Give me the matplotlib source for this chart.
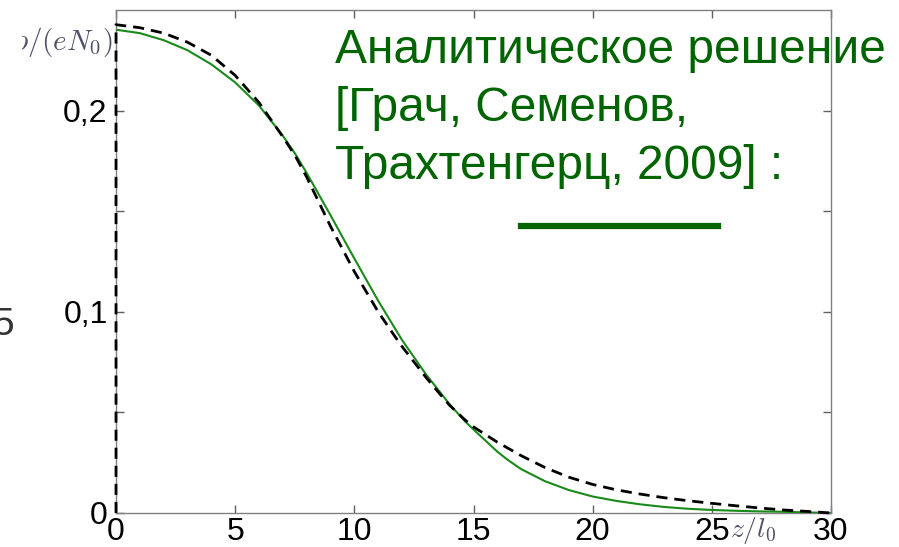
import matplotlib
matplotlib.use("Agg")
import matplotlib.pyplot as plt
from matplotlib.transforms import Bbox

plt.rcParams['mathtext.fontset'] = 'cm'

# Analytical solution (green)
z_green = [0, 1, 2, 3, 4, 5, 6, 7, 7.52, 8, 9, 10, 11, 12, 13, 14, 14.65, 15,
           16, 16.39, 17, 18, 19, 20, 21, 22, 23, 24, 25, 26, 27, 28, 29, 30]
rho_green = [0.2402, 0.2385, 0.2350, 0.2300, 0.2230, 0.2140, 0.2025, 0.1875,
             0.1785, 0.1690, 0.1480, 0.1265, 0.1055, 0.0860, 0.0690, 0.0540, 0.0455,
             0.0415, 0.0305, 0.0268, 0.0218, 0.0158, 0.0114, 0.0082, 0.0060,
             0.0043, 0.0030, 0.0021, 0.0015, 0.0011, 0.0008, 0.0006, 0.0003, 0.0]

# Numerical solution (black dashed)
z_dash = [0, 0, 1, 2, 3, 4, 5, 6, 7, 7.52, 8, 9, 10, 11, 11.92, 13, 13.6, 14,
          14.65, 15, 16, 17, 18, 19, 20, 21, 22, 23, 24, 25, 26, 27, 28, 29, 30]
rho_dash = [0.0, 0.2427, 0.2412, 0.2385, 0.2340, 0.2275, 0.2175, 0.2040, 0.1870,
            0.1775, 0.1670, 0.1425, 0.1200, 0.1000, 0.0840, 0.0675, 0.0590, 0.0535,
            0.0462, 0.0428, 0.0352, 0.0285, 0.0226, 0.0178, 0.0142, 0.0115, 0.0094,
            0.0076, 0.0061, 0.0048, 0.0036, 0.0025, 0.0015, 0.0008, 0.0]

x_ticks = [0, 5, 10, 15, 20, 25, 30]
x_ticklabels = ['0', '5', '10', '15', '20', '25', '30']
y_ticks = [0, 0.05, 0.1, 0.15, 0.2]
y_ticklabels = ['0', '', '0,1', '', '0,2']

legend_lines = ['Аналитическое решение', '[Грач, Семенов,', 'Трахтенгерц, 2009] :']

W, H = 899, 547
fig = plt.figure(figsize=(W / 100, H / 100), dpi=100)
ax = fig.add_axes([116 / W, 1 - 513 / H, 715 / W, 503 / H])

ax.plot(z_green, rho_green, color='#1a8a1a', lw=1.5, zorder=3)
ax.plot(z_dash, rho_dash, color='black', lw=2.0, ls=(0, (4, 2.5)), zorder=4, clip_on=False)

ax.set_xlim(0, 30)
ax.set_ylim(0, 0.25)
ax.set_xticks(x_ticks)
ax.set_xticklabels(x_ticklabels)
ax.set_yticks(y_ticks)
ax.set_yticklabels(y_ticklabels)
for s in ax.spines.values():
    s.set_color('#808080')
    s.set_linewidth(1.0)
ax.tick_params(direction='in', length=6, width=1, color='#606060',
               top=True, right=True, labelsize=23, labelcolor='black')
ax.tick_params(axis='y', pad=6)
ax.tick_params(axis='x', pad=3)
for lab in ax.get_xticklabels() + ax.get_yticklabels():
    lab.set_family('Liberation Sans')

# Legend-like annotation text
baselines = [63, 121, 179]
for txt, yb in zip(legend_lines, baselines):
    fig.text(335 / W, 1 - yb / H, txt, color='#006400', fontsize=34.5,
             family='Liberation Sans', va='baseline', ha='left')
fig.add_artist(plt.Line2D([521 / W, 718 / W], [1 - 226 / H, 1 - 226 / H],
                          color='#006400', lw=4.5, transform=fig.transFigure))

# Axis labels (partly clipped, as in the source)
yl = fig.text(112 / W, 1 - 42 / H, r'$\rho/(eN_0)$', color='#505068', fontsize=21,
              ha='right', va='center')
yl.set_clip_box(Bbox.from_extents(22, 0, W, H))
yl.set_clip_on(True)
fig.text(753 / W, 1 - 530 / H, r'$z/l_0$', color='#505068', fontsize=20,
         ha='center', va='center')
fig.text(-8 / W, 1 - 325 / H, '5', color='#333333', fontsize=28,
         family='Liberation Sans', ha='left', va='center')

fig.savefig('out.png', dpi=100, facecolor='white')
